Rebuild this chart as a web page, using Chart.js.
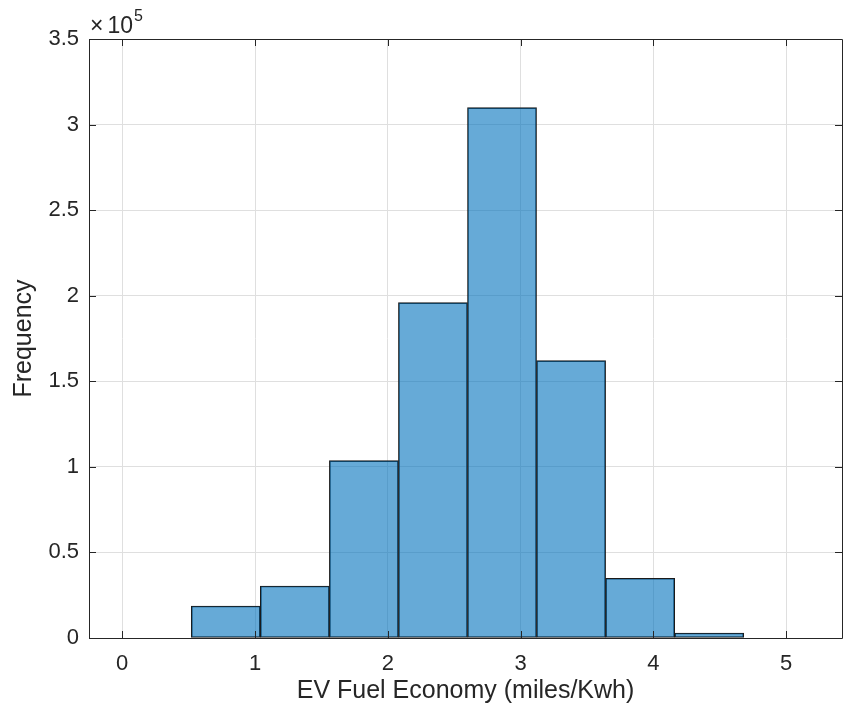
<!DOCTYPE html>
<html>
<head>
<meta charset="utf-8">
<script src="https://cdn.jsdelivr.net/npm/chart.js@4/dist/chart.umd.min.js"></script>
<style>
  html, body { margin: 0; padding: 0; background: #ffffff; }
  #wrap { width: 843px; height: 713px; }
</style>
</head>
<body>
<div id="wrap"><canvas id="hist"></canvas></div>
<script>
// Histogram of EV fuel economy: bin edges (miles/kWh) and counts per bin
const binEdges = [0, 0.52, 1.04, 1.56, 2.08, 2.60, 3.12, 3.64, 4.16, 4.68, 5.20];
const binCounts = [0, 18700, 30400, 103600, 196000, 309900, 162100, 34900, 2900, 0];
const xTicks = [0, 1, 2, 3, 4, 5];
const yTicks = [0, 50000, 100000, 150000, 200000, 250000, 300000, 350000];
const yExponent = 5;

const xLimits = [-0.25, 5.42];
const yLimits = [0, 350000];

const axisColor = '#262626';
const gridColor = '#dfdfdf';
const tickFont = { family: '"Liberation Sans", Arial, Helvetica, sans-serif', size: 22 };
const titleFont = { family: '"Liberation Sans", Arial, Helvetica, sans-serif', size: 25 };

const points = binCounts.map((c, i) => ({ x: (binEdges[i] + binEdges[i + 1]) / 2, y: c }));

// Box outline, inward tick marks on all four sides and the exponent label
const boxAndTicks = {
  id: 'boxAndTicks',
  afterDatasetsDraw(chart) {
    const { ctx, chartArea: a, scales } = chart;
    const len = 7;
    ctx.save();
    ctx.strokeStyle = axisColor;
    ctx.lineWidth = 1;
    ctx.beginPath();
    xTicks.forEach(v => {
      const px = Math.round(scales.x.getPixelForValue(v)) + 0.5;
      ctx.moveTo(px, a.bottom); ctx.lineTo(px, a.bottom - len);
      ctx.moveTo(px, a.top); ctx.lineTo(px, a.top + len);
    });
    yTicks.forEach(v => {
      const py = Math.round(scales.y.getPixelForValue(v)) + 0.5;
      ctx.moveTo(a.left, py); ctx.lineTo(a.left + len, py);
      ctx.moveTo(a.right, py); ctx.lineTo(a.right - len, py);
    });
    ctx.stroke();
    ctx.beginPath();
    ctx.rect(Math.round(a.left) + 0.5, Math.round(a.top) + 0.5,
             Math.round(a.right - a.left), Math.round(a.bottom - a.top));
    ctx.stroke();

    ctx.fillStyle = axisColor;
    ctx.textBaseline = 'alphabetic';
    ctx.textAlign = 'left';
    ctx.font = `23px ${tickFont.family}`;
    const baseX = a.left + 1, baseY = a.top - 6;
    ctx.fillText('\u00d7', baseX, baseY);
    const w1 = ctx.measureText('\u00d7').width;
    ctx.fillText('10', baseX + w1 + 4, baseY);
    const w2 = ctx.measureText('10').width;
    ctx.font = `16px ${tickFont.family}`;
    ctx.fillText(String(yExponent), baseX + w1 + 4 + w2 + 1, baseY - 12);
    ctx.restore();
  }
};

new Chart(document.getElementById('hist'), {
  type: 'bar',
  data: {
    datasets: [{
      data: points,
      backgroundColor: 'rgba(0, 114, 189, 0.6)',
      borderColor: '#1a1a1a',
      borderWidth: 1,
      borderSkipped: false,
      barPercentage: 1,
      categoryPercentage: 1
    }]
  },
  options: {
    responsive: true,
    maintainAspectRatio: false,
    animation: false,
    events: [],
    layout: { padding: { top: 39, right: 1, left: 0, bottom: 0 } },
    plugins: { legend: { display: false }, tooltip: { enabled: false } },
    scales: {
      x: {
        type: 'linear',
        offset: false,
        min: xLimits[0],
        max: xLimits[1],
        afterFit(s) { s.height = 75; },
        afterBuildTicks(s) { s.ticks = xTicks.map(v => ({ value: v })); },
        ticks: {
          includeBounds: false,
          color: axisColor,
          font: tickFont,
          padding: 13,
          maxRotation: 0,
          callback: v => String(v)
        },
        grid: { color: gridColor, drawTicks: false, offset: false },
        border: { display: false },
        title: {
          display: true,
          text: 'EV Fuel Economy (miles/Kwh)',
          color: axisColor,
          font: titleFont,
          padding: { top: 0, bottom: 7 }
        }
      },
      y: {
        min: yLimits[0],
        max: yLimits[1],
        afterFit(s) { s.width = 89; },
        afterBuildTicks(s) { s.ticks = yTicks.map(v => ({ value: v })); },
        ticks: {
          color: axisColor,
          font: tickFont,
          padding: 10,
          callback: v => String(v / Math.pow(10, yExponent))
        },
        grid: { color: gridColor, drawTicks: false },
        border: { display: false },
        title: {
          display: true,
          text: 'Frequency',
          color: axisColor,
          font: titleFont,
          padding: { top: 9, bottom: 0 }
        }
      }
    }
  },
  plugins: [boxAndTicks]
});
</script>
</body>
</html>
